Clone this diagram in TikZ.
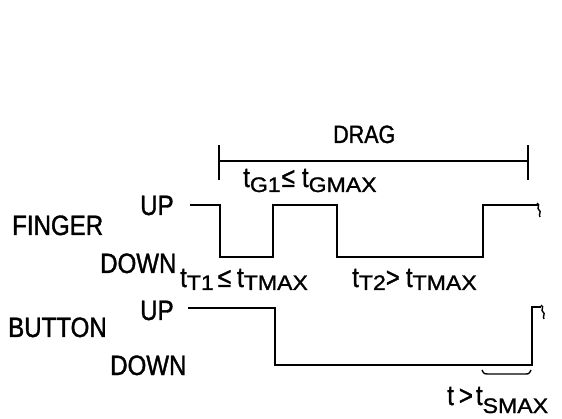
\documentclass[tikz,border=0pt]{standalone}
\usepackage{fontspec}
\setmainfont{Liberation Sans}
\newfontfamily\labfont{Liberation Sans}[FakeStretch=0.86,FakeBold=1.3]
\newfontfamily\subfont{Liberation Sans}[FakeStretch=1.1,FakeBold=1.2]
\newcommand\labsize{\labfont\fontsize{28}{28}\selectfont}
\newcommand\lowsub[2][4pt]{\raisebox{-#1}{\subfont\fontsize{21}{21}\selectfont #2}}
\begin{document}
\begin{tikzpicture}[x=1pt,y=-1pt,
  wave/.style={line width=2pt, line join=miter},
  thin wave/.style={line width=1.4pt},
  lbl/.style={anchor=base west, inner sep=0pt, font=\labsize}]
\useasboundingbox (0,0) rectangle (562,419);
\fill[white] (0,0) rectangle (562,419);

% DRAG bracket
\coordinate (dl) at (219,161);
\coordinate (dr) at (528,161);
\draw[wave] ([yshift=-19pt]dl) -- ([yshift=16pt]dl);
\draw[wave] ([yshift=-19pt]dr) -- ([yshift=16pt]dr);
\draw[wave] (dl) -- (dr);
\node[lbl, font=\labfont\fontsize{25}{25}\selectfont] (drag) at (333,143) {DRAG};

% FINGER waveform
\draw[wave] (190,205) -- (220,205) -- (220,257) -- (273,257) -- (273,205)
  -- (337,205) -- (337,257) -- (483,257) -- (483,205) -- (538,205);
\draw[thin wave] (537,203) .. controls (541,205) and (536,208) .. (539,210)
  .. controls (542,212) and (538,214) .. (540,217);

% BUTTON waveform
\draw[wave] (188,308) -- (275,308) -- (275,365) -- (532,365) -- (532,307) -- (541,307);
\draw[thin wave] (541,305) .. controls (545,307) and (540,310) .. (543,312)
  .. controls (546,314) and (542,316) .. (544,319);

% underbrace
\draw[thin wave] (482,370) .. controls (484,374) .. (490,374) -- (524,374)
  .. controls (529,374) .. (531,370);

% labels
\node[lbl] (finger) at (12,235) {FINGER};
\node[lbl] (fup) at (140,215) {UP};
\node[lbl] (fdown) at (100,273) {DOWN};
\node[lbl] (button) at (8,337) {BUTTON};
\node[lbl] (bup) at (140,320) {UP};
\node[lbl] (bdown) at (110,375) {DOWN};

\node[lbl] (tg) at (243,187) {t\lowsub[5pt]{G1}\hspace{1pt}≤\hspace{7pt}t\lowsub[5pt]{GMAX}};
\node[lbl] (tt1) at (180,287) {t\lowsub[3pt]{T1}\hspace{4pt}≤\hspace{6pt}t\lowsub[3pt]{TMAX}};
\node[lbl] (tt2) at (352,287) {t\lowsub[3pt]{T2}>\hspace{6pt}t\lowsub[3pt]{TMAX}};
\node[lbl] (ts) at (447,405) {t\hspace{5pt}>\hspace{3pt}t\lowsub[8pt]{SMAX}};
\end{tikzpicture}
\end{document}
